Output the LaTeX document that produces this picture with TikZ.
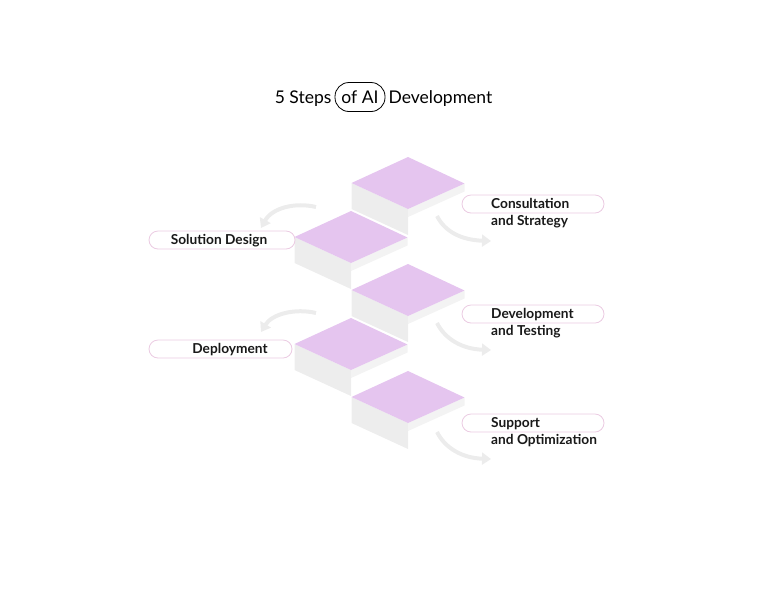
\documentclass[tikz,border=0pt]{standalone}
\usepackage{fontspec}
\setmainfont{Lato}
\usetikzlibrary{arrows.meta}
\definecolor{topc}{HTML}{E5C5EF}
\definecolor{leftc}{HTML}{EDEDED}
\definecolor{rightc}{HTML}{F3F3F3}
\definecolor{pillc}{HTML}{EBCBE2}
\definecolor{arrc}{HTML}{ECECEC}
\tikzset{
  pill/.style={draw=pillc, line width=0.8pt, fill=white, rounded corners=9pt, minimum height=18pt, inner sep=0pt},
  lbl/.style={font=\fontsize{13.7}{17}\selectfont\bfseries, align=left, inner sep=0pt, text=black!90},
  titlepill/.style={draw=black, line width=0.8pt, rounded corners=14pt, minimum height=29pt, minimum width=50pt, inner sep=0pt, font=\fontsize{17.5}{20}\selectfont},
  ttl/.style={font=\fontsize{17.5}{20}\selectfont, inner sep=0pt},
  flow/.style={draw=arrc, line width=4pt, -{Triangle[width=12pt,length=9pt]}},
}
\newcommand{\stepblock}[2]{%
  \fill[leftc] (#1-56.5,#2+26) -- (#1,#2+52) -- (#1,#2+78) -- (#1-56.5,#2+52) -- cycle;
  \fill[rightc] (#1,#2+52) -- (#1+56.5,#2+26.5) -- (#1+56.5,#2+34.5) -- (#1,#2+60) -- cycle;
  \fill[topc] (#1,#2) -- (#1+56.5,#2+26.5) -- (#1,#2+52) -- (#1-56.5,#2+26) -- cycle;
}
\begin{document}
\begin{tikzpicture}[x=1pt,y=-1pt]
\useasboundingbox (0,0) rectangle (768,614);
% title
\node[titlepill] (ofai) at (360,97) {of AI};
\node[ttl, anchor=base east] (five) at ([xshift=-3pt]ofai.base west) {5 Steps};
\node[ttl, anchor=base west] (devt) at ([xshift=3pt]ofai.base east) {Development};
% blocks
\stepblock{408}{157}
\stepblock{351}{211}
\stepblock{408}{264}
\stepblock{351}{318}
\stepblock{408}{371}
% pills
\node[pill, minimum width=146pt] (p2) at (222,240) {};
\node[lbl] at (219,241) {Solution Design};
\node[pill, minimum width=143pt] (p4) at (220.5,349) {};
\node[lbl] at (230,350) {Deployment};
\node[pill, minimum width=142pt] (p1) at (533,204) {};
\node[lbl, anchor=north west] (l1) at (491,198.5) {Consultation\\and Strategy};
\node[pill, minimum width=142pt] (p3) at (533,314) {};
\node[lbl, anchor=north west] (l3) at (491,308.5) {Development\\and Testing};
\node[pill, minimum width=142pt] (p5) at (533,423) {};
\node[lbl, anchor=north west] (l5) at (491,417.5) {Support\\and Optimization};
% arrows
\coordinate (a1s) at (316,207); \coordinate (a1e) at (261,228);
\coordinate (a2s) at (316,313); \coordinate (a2e) at (261,332);
\coordinate (b1s) at (437,216); \coordinate (b1e) at (491,241);
\coordinate (b2s) at (437,323); \coordinate (b2e) at (491,350);
\coordinate (b3s) at (437,432); \coordinate (b3e) at (491,459);
\draw[flow] (a1s) .. controls (295,202) and (272,208) .. (a1e);
\draw[flow] (a2s) .. controls (295,308) and (272,314) .. (a2e);
\draw[flow] (b1s) .. controls (445,232) and (462,240) .. (b1e);
\draw[flow] (b2s) .. controls (445,339) and (462,349) .. (b2e);
\draw[flow] (b3s) .. controls (445,448) and (462,458) .. (b3e);
\end{tikzpicture}
\end{document}
